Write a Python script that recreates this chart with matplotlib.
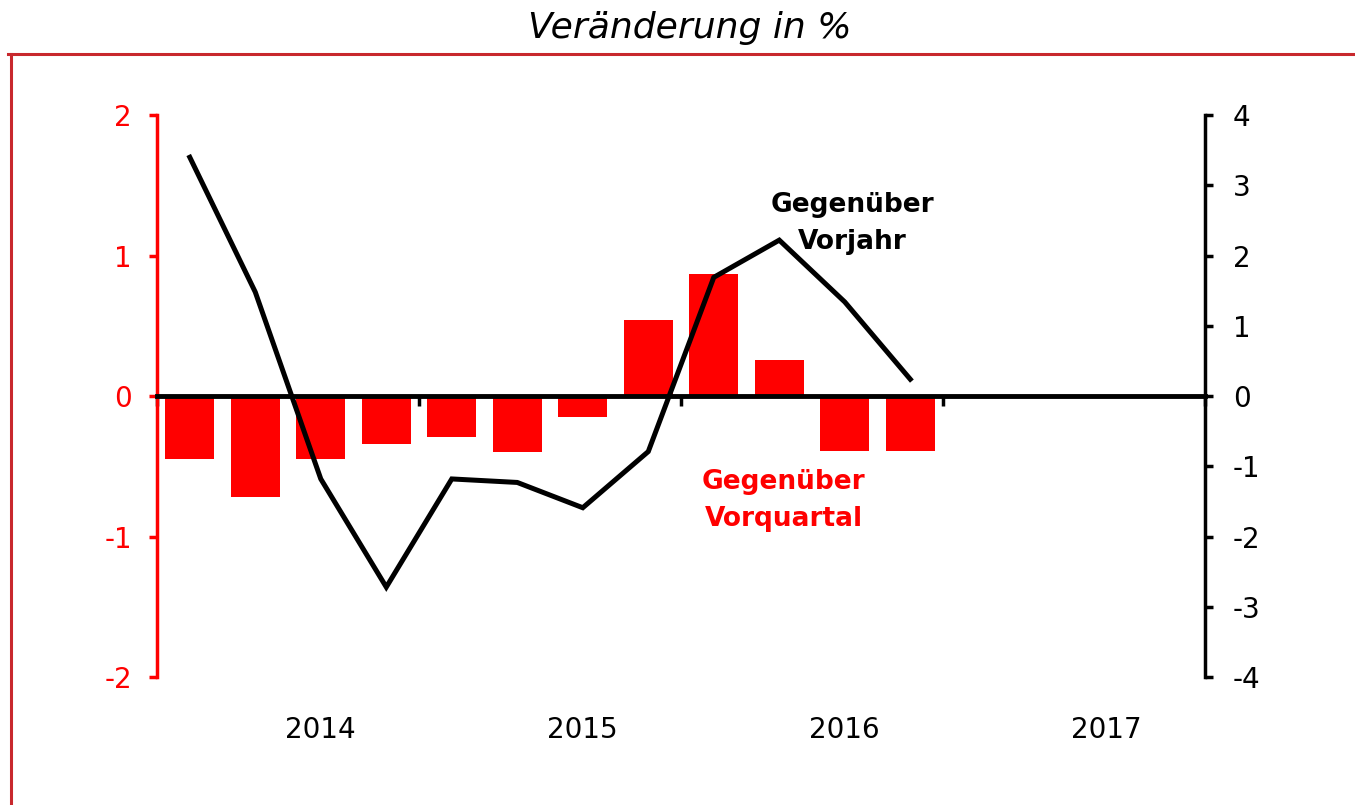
"""Veränderung in %: Vorquartal (Balken, links) und Vorjahr (Linie, rechts)."""

import matplotlib
matplotlib.use('Agg')
import matplotlib.pyplot as plt
from matplotlib.lines import Line2D

plt.rcParams.update({
    'font.family': 'DejaVu Sans',
    'font.size': 20,
})

# Quartale (Index 0..11 mit Daten, Achse reicht bis 15)
QUARTERS = list(range(12))
QOQ = [-0.45, -0.72, -0.45, -0.34, -0.29, -0.40, -0.15, 0.54, 0.87, 0.26, -0.39, -0.39]
YOY = [3.40, 1.48, -1.18, -2.72, -1.18, -1.23, -1.59, -0.79, 1.69, 2.22, 1.34, 0.24]

YEARS = ['2014', '2015', '2016', '2017']
YEAR_POS = [2, 6, 10, 14]
YEAR_BOUNDS = [-0.5, 3.5, 7.5, 11.5, 15.5]
LEFT_TICKS = [-2, -1, 0, 1, 2]
RIGHT_TICKS = [-4, -3, -2, -1, 0, 1, 2, 3, 4]

RED = '#ff0000'
FRAME = '#c8282d'


def main():
    fig = plt.figure(figsize=(13.55, 8.05), dpi=100)
    ax = fig.add_axes([0.1159, 0.159, 0.7734, 0.698])
    ax2 = ax.twinx()

    # bars: change vs previous quarter
    ax.bar(QUARTERS, QOQ, width=0.75, color=RED, zorder=2)
    ax.set_xlim(-0.5, 15.5)
    ax.set_ylim(-2, 2)
    ax.set_yticks(LEFT_TICKS)
    ax.set_yticklabels([str(t) for t in LEFT_TICKS])

    for s in ['top', 'right']:
        ax.spines[s].set_visible(False)
    ax.spines['left'].set_color(RED)
    ax.spines['left'].set_linewidth(2.5)
    ax.spines['bottom'].set_position(('data', 0))
    ax.spines['bottom'].set_color('black')
    ax.spines['bottom'].set_linewidth(3.5)
    ax.spines['bottom'].set_zorder(3)
    ax.tick_params(axis='y', colors=RED, length=6, width=2.5, pad=12,
                   labelsize=20, direction='out')
    ax.set_xticks(YEAR_BOUNDS)
    ax.set_xticklabels([])
    ax.tick_params(axis='x', length=7, width=2.5, direction='out', color='black')

    for pos, yr in zip(YEAR_POS, YEARS):
        ax.text(pos, -0.094, yr, transform=ax.get_xaxis_transform(),
                ha='center', va='center', fontsize=20)

    # line: change vs previous year
    ax2.plot(QUARTERS, YOY, color='black', linewidth=3.6, zorder=4,
             solid_joinstyle='miter')
    ax2.set_ylim(-4, 4)
    ax2.set_yticks(RIGHT_TICKS)
    ax2.set_yticklabels([str(t) for t in RIGHT_TICKS])
    for s in ['top', 'left', 'bottom']:
        ax2.spines[s].set_visible(False)
    ax2.spines['right'].set_color('black')
    ax2.spines['right'].set_linewidth(2.5)
    ax2.tick_params(axis='y', colors='black', length=6, width=2.5, pad=14,
                    labelsize=20, direction='out')

    ax2.text(10.11, 2.46, 'Gegenüber\nVorjahr', ha='center', va='center',
             fontsize=19, fontweight='bold', color='black', linespacing=1.55)
    ax.text(9.07, -0.74, 'Gegenüber\nVorquartal', ha='center', va='center',
            fontsize=19, fontweight='bold', color=RED, linespacing=1.55)

    fig.text(0.509, 0.965, 'Veränderung in %', ha='center', va='center',
             fontsize=26, style='italic')

    # red frame lines (top and left)
    fig.add_artist(Line2D([0.006, 1.0], [0.933, 0.933], color=FRAME, lw=2.2,
                          transform=fig.transFigure))
    fig.add_artist(Line2D([0.008, 0.008], [0.0, 0.933], color=FRAME, lw=2.2,
                          transform=fig.transFigure))

    fig.savefig('out.png', dpi=100)
    plt.close(fig)


if __name__ == '__main__':
    main()
